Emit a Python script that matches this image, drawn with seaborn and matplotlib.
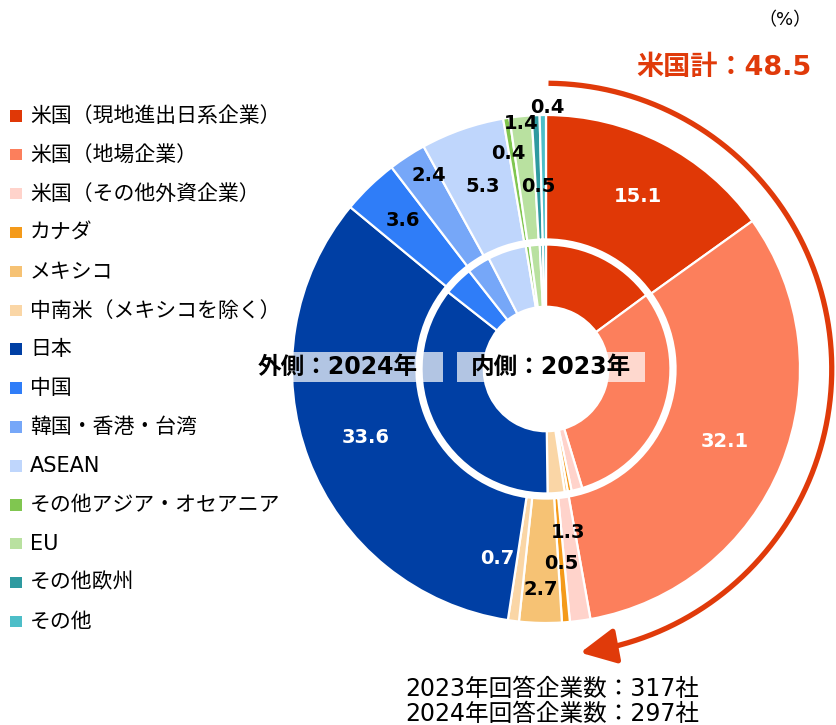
import numpy as np
import matplotlib
matplotlib.use("Agg")
import matplotlib.pyplot as plt
import seaborn as sns
from matplotlib.patches import Rectangle

sns.set_theme(style="white")
plt.rcParams["font.family"] = ["DejaVu Sans", "Noto Sans CJK JP"]

# categories / data
categories = ["米国（現地進出日系企業）", "米国（地場企業）", "米国（その他外資企業）",
              "カナダ", "メキシコ", "中南米（メキシコを除く）", "日本", "中国",
              "韓国・香港・台湾", "ASEAN", "その他アジア・オセアニア", "EU",
              "その他欧州", "その他"]
values_2024 = [15.1, 32.1, 1.3, 0.5, 2.7, 0.7, 33.6, 3.6, 2.4, 5.3, 0.4, 1.4, 0.5, 0.4]
values_2023 = [14.9, 30.4, 1.4, 0.5, 0.4, 2.2, 35.8, 3.8, 3.0, 5.0, 0.5, 1.3, 0.4, 0.4]
us_total = 48.5
n_2023 = 317
n_2024 = 297

colors = ["#E03806", "#FC7F5C", "#FFD3CB", "#F49A1A", "#F6C274", "#FAD6A6",
          "#003FA4", "#2F7DF8", "#76A7F8", "#BFD6FC", "#80C650", "#B9E1A0",
          "#2E9AA0", "#4DBEC8"]
palette = sns.color_palette(colors)

# label style for the outer ring (radius, angle shift in deg, colour)
label_r = [0.77, 0.76, 0.65, 0.77, 0.87, 0.77, 0.76, 0.81, 0.89, 0.76, 0.86, 0.97, 0.72, 1.03]
label_shift = [1, 0, 0, 0, 0, 7, 0, 0, 2, 0, -1, 0, 0, 1]
label_col = ["white", "white", "black", "black", "black", "white", "white",
             "black", "black", "black", "black", "black", "black", "black"]

W, H = 837, 725
fig = plt.figure(figsize=(W / 100, H / 100), dpi=100)
cx, cy, R = 546, 369, 254
ax = fig.add_axes([(cx - R) / W, (H - cy - R) / H, 2 * R / W, 2 * R / H])


def fpos(x, y):
    return x / W, 1 - y / H


wedge = dict(edgecolor="white", linewidth=1.6)
ax.pie(values_2024, radius=1.0, colors=palette, startangle=90, counterclock=False,
       wedgeprops=dict(width=0.49, **wedge))
ax.pie(values_2023, radius=0.49, colors=palette, startangle=90, counterclock=False,
       wedgeprops=dict(width=0.245, **wedge))
ax.set_xlim(-1, 1)
ax.set_ylim(-1, 1)
ax.axis("off")

# value labels for outer ring
cum = np.cumsum(values_2024)
for v, c, r, s, col in zip(values_2024, cum, label_r, label_shift, label_col):
    th = np.deg2rad(360 * (c - v / 2) / 100 + s)
    ax.text(r * np.sin(th), r * np.cos(th), f"{v:.1f}", ha="center", va="center",
            fontsize=14, fontweight="bold", color=col, family="DejaVu Sans")

# US total arrow
red = "#E03A0A"
ra = 1.125
end_deg = 360 * us_total / 100
th = np.deg2rad(np.linspace(0.5, end_deg - 7, 200))
ax.plot(ra * np.sin(th), ra * np.cos(th), color=red, lw=3.8, solid_capstyle="butt",
        clip_on=False)
t0, t1 = np.deg2rad(end_deg - 9), np.deg2rad(end_deg - 1.5)
ax.annotate("", xy=(ra * np.sin(t1), ra * np.cos(t1)),
            xytext=(ra * np.sin(t0), ra * np.cos(t0)),
            arrowprops=dict(arrowstyle="-|>,head_length=0.9,head_width=0.45",
                            color=red, lw=3.8, mutation_scale=24,
                            shrinkA=0, shrinkB=0),
            annotation_clip=False)

fig.text(*fpos(812, 68), f"米国計：{us_total}", ha="right", va="center",
         fontsize=19.5, fontweight="bold", color=red)
fig.text(*fpos(812, 20), "（%）", ha="right", va="center", fontsize=13, color="black")

# centre labels with translucent boxes
for x0, x1 in [(250, 443), (457, 645)]:
    fig.add_artist(Rectangle(fpos(x0, 382), (x1 - x0) / W, 30 / H,
                             transform=fig.transFigure, facecolor="white",
                             alpha=0.7, edgecolor="none"))
fig.text(*fpos(418, 367), "外側：2024年", ha="right", va="center",
         fontsize=17, fontweight="bold", color="black")
fig.text(*fpos(551, 367), "内側：2023年", ha="center", va="center",
         fontsize=17, fontweight="bold", color="black")

# legend
for i, (name, col) in enumerate(zip(categories, palette)):
    y = 116 + i * 38.9
    fig.add_artist(Rectangle(fpos(10, y + 5.5), 11.5 / W, 11.5 / H,
                             transform=fig.transFigure, facecolor=col,
                             edgecolor="none"))
    fig.text(*fpos(30, y), name, ha="left", va="center", fontsize=15, color="black")

# respondent counts
fig.text(*fpos(552, 689), f"2023年回答企業数：{n_2023}社", ha="center", va="center",
         fontsize=17, color="black")
fig.text(*fpos(552, 714), f"2024年回答企業数：{n_2024}社", ha="center", va="center",
         fontsize=17, color="black")

fig.savefig("out.png", dpi=100)
